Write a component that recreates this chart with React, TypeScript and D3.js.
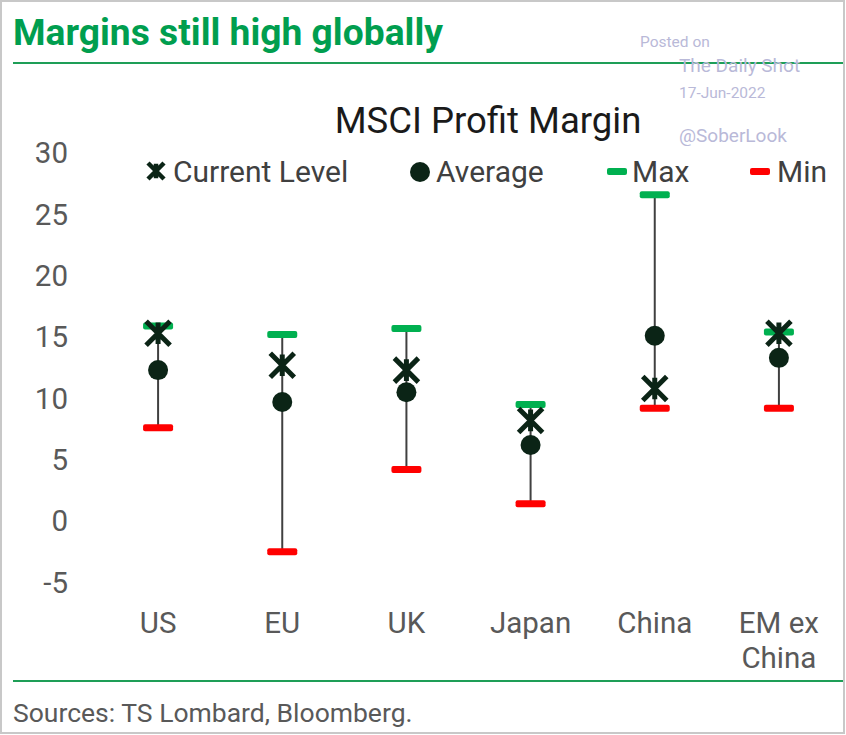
import React from "react";
import * as d3 from "d3";

const categories = ["US", "EU", "UK", "Japan", "China", "EM ex China"];
const categoryLines = [["US"], ["EU"], ["UK"], ["Japan"], ["China"], ["EM ex", "China"]];
const currentLevel = [15.3, 12.7, 12.3, 8.2, 10.8, 15.3];
const average = [12.3, 9.7, 10.5, 6.2, 15.1, 13.3];
const maxValues = [15.9, 15.2, 15.7, 9.5, 26.6, 15.4];
const minValues = [7.6, -2.5, 4.2, 1.4, 9.2, 9.2];
const yTicks = [-5, 0, 5, 10, 15, 20, 25, 30];

const W = 846;
const H = 735;
const FONT = "Roboto, 'Noto Sans', sans-serif";
const TEXT = "#595959";
const GREEN = "#00b050";
const RED = "#ff0000";
const DARK = "#0b2416";

function XMark({ cx, cy, s, w }: { cx: number; cy: number; s: number; w: number }) {
  return (
    <path
      d={`M${cx - s},${cy - s}L${cx + s},${cy + s}M${cx - s},${cy + s}L${cx + s},${cy - s}M${cx},${cy - s * 0.9}L${cx},${cy + s * 0.9}`}
      stroke={DARK}
      strokeWidth={w}
      fill="none"
    />
  );
}

export default function App() {
  const x = d3.scaleBand<string>().domain(categories).range([96, 841]);
  const y = d3.scaleLinear().domain([0, 30]).range([521, 153]);
  const cx = (c: string) => (x(c) as number) + x.bandwidth() / 2;

  return (
    <svg width={W} height={H} style={{ position: "absolute", left: 0, top: 0, display: "block" }}>
      <rect x={0} y={0} width={W} height={H} fill="#fff" />
      <rect x={1} y={1} width={843} height={732} fill="none" stroke="#c8c8c8" strokeWidth={2} />
      <text x={13} y={45} fontFamily={FONT} fontWeight={700} fontSize={36} fill="#009e4f"
        textLength={430} lengthAdjust="spacingAndGlyphs">Margins still high globally</text>
      <line x1={13} x2={843} y1={63} y2={63} stroke="#1e9e57" strokeWidth={2} />
      <line x1={13} x2={843} y1={681} y2={681} stroke="#1e9e57" strokeWidth={2} />
      <text x={13} y={722} fontFamily={FONT} fontSize={26.5} fill={TEXT}>Sources: TS Lombard, Bloomberg.</text>

      {/* watermark */}
      <g fontFamily={FONT} fill="#b9b9d8">
        <text x={640} y={47} fontSize={15.5}>Posted on</text>
        <text x={679} y={72} fontSize={19}>The Daily Shot</text>
        <text x={679} y={98} fontSize={15.5}>17-Jun-2022</text>
        <text x={679} y={142} fontSize={19}>@SoberLook</text>
      </g>

      <text x={488} y={133} textAnchor="middle" fontFamily={FONT} fontSize={36.5} fill="#1a1a1a">MSCI Profit Margin</text>

      {/* legend */}
      <g fontFamily={FONT} fontSize={30} fill="#404040">
        <XMark cx={156} cy={171} s={8} w={4.5} />
        <text x={173} y={182}>Current Level</text>
        <circle cx={420} cy={172} r={10} fill={DARK} />
        <text x={436} y={182}>Average</text>
        <rect x={607} y={168} width={20} height={7} rx={2} fill={GREEN} />
        <text x={632} y={182}>Max</text>
        <rect x={750} y={168} width={20} height={7} rx={2} fill={RED} />
        <text x={777} y={182}>Min</text>
      </g>

      {/* y axis labels */}
      <g fontFamily={FONT} fontSize={29.5} fill={TEXT}>
        {yTicks.map((t) => (
          <text key={t} x={68} y={y(t)} dy="0.35em" textAnchor="end">{t}</text>
        ))}
      </g>

      {/* category labels */}
      <g fontFamily={FONT} fontSize={29.5} fill={TEXT}>
        {categories.map((c, i) => (
          <text key={c} x={cx(c)} y={633} textAnchor="middle">
            {categoryLines[i].map((l, j) => (
              <tspan key={j} x={cx(c)} dy={j === 0 ? 0 : 35}>{l}</tspan>
            ))}
          </text>
        ))}
      </g>

      {/* marks */}
      {categories.map((c, i) => {
        const xc = cx(c);
        return (
          <g key={c}>
            <line x1={xc} x2={xc} y1={y(minValues[i])} y2={y(maxValues[i])} stroke="#404040" strokeWidth={2} />
            <rect x={xc - 15} y={y(maxValues[i]) - 3.5} width={30} height={7} rx={2} fill={GREEN} />
            <rect x={xc - 15} y={y(minValues[i]) - 3.5} width={30} height={7} rx={2} fill={RED} />
            <circle cx={xc} cy={y(average[i])} r={10} fill={DARK} />
            <XMark cx={xc} cy={y(currentLevel[i])} s={12} w={5} />
          </g>
        );
      })}
    </svg>
  );
}
